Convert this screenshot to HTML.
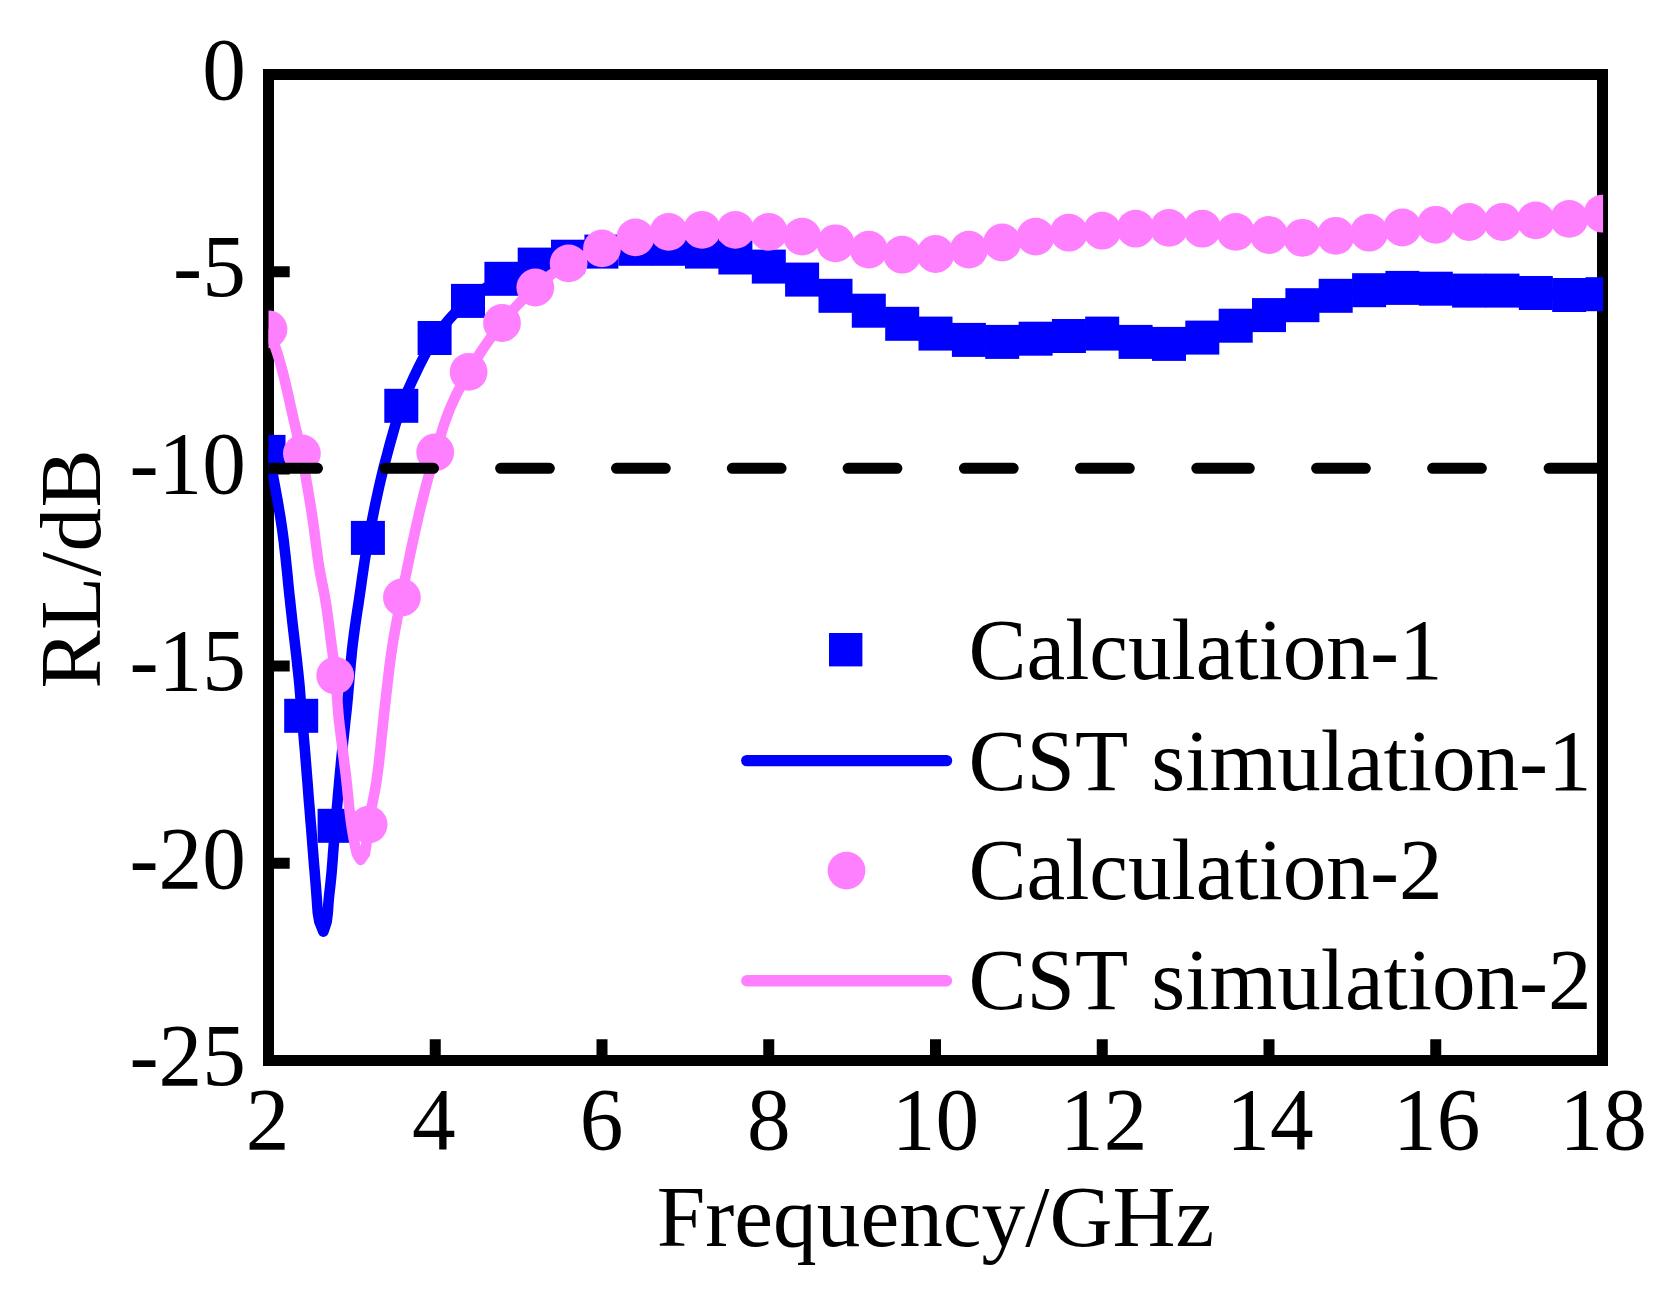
<!DOCTYPE html>
<html lang="en">
<head>
<meta charset="utf-8">
<title>RL/dB vs Frequency/GHz</title>
<style>
html,body{margin:0;padding:0;background:#fff;}
body{width:1676px;height:1301px;overflow:hidden;}
svg{display:block;}
</style>
</head>
<body>
<svg width="1676" height="1301" viewBox="0 0 1676 1301" role="img" aria-label="RL/dB versus Frequency/GHz chart">
<rect width="1676" height="1301" fill="#fff"/>
<defs><clipPath id="pc"><rect x="268.5" y="74.5" width="1334.6" height="986"/></clipPath></defs>
<rect x="268.5" y="74.5" width="1334.0" height="986.0" fill="none" stroke="#000" stroke-width="11"/>
<path d="M435.25,1056 V1039.2 M602.00,1056 V1039.2 M768.75,1056 V1039.2 M935.50,1056 V1039.2 M1102.25,1056 V1039.2 M1269.00,1056 V1039.2 M1435.75,1056 V1039.2 M273,271.70 H289.7 M273,468.90 H289.7 M273,666.10 H289.7 M273,863.30 H289.7" stroke="#000" stroke-width="11" fill="none"/>
<g clip-path="url(#pc)">
<g fill="#0000ff">
<rect x="251.5" y="434.9" width="34" height="34"/>
<rect x="284.2" y="698.8" width="34" height="34"/>
<rect x="317.6" y="808.8" width="34" height="34"/>
<rect x="350.9" y="520.9" width="34" height="34"/>
<rect x="384.3" y="388.8" width="34" height="34"/>
<rect x="417.6" y="321.0" width="34" height="34"/>
<rect x="451.0" y="283.9" width="34" height="34"/>
<rect x="484.4" y="261.8" width="34" height="34"/>
<rect x="517.7" y="247.6" width="34" height="34"/>
<rect x="551.0" y="239.7" width="34" height="34"/>
<rect x="584.4" y="234.6" width="34" height="34"/>
<rect x="618.4" y="231.8" width="34" height="34"/>
<rect x="651.7" y="231.8" width="34" height="34"/>
<rect x="685.0" y="234.6" width="34" height="34"/>
<rect x="718.4" y="240.5" width="34" height="34"/>
<rect x="751.8" y="249.6" width="34" height="34"/>
<rect x="785.1" y="262.6" width="34" height="34"/>
<rect x="818.5" y="278.8" width="34" height="34"/>
<rect x="851.8" y="293.7" width="34" height="34"/>
<rect x="885.2" y="306.8" width="34" height="34"/>
<rect x="918.5" y="316.6" width="34" height="34"/>
<rect x="951.9" y="322.9" width="34" height="34"/>
<rect x="985.2" y="324.9" width="34" height="34"/>
<rect x="1018.6" y="321.7" width="34" height="34"/>
<rect x="1051.9" y="319.0" width="34" height="34"/>
<rect x="1085.2" y="316.6" width="34" height="34"/>
<rect x="1118.6" y="324.9" width="34" height="34"/>
<rect x="1152.0" y="326.9" width="34" height="34"/>
<rect x="1185.3" y="320.6" width="34" height="34"/>
<rect x="1218.7" y="308.7" width="34" height="34"/>
<rect x="1252.0" y="298.1" width="34" height="34"/>
<rect x="1285.4" y="288.2" width="34" height="34"/>
<rect x="1318.7" y="278.8" width="34" height="34"/>
<rect x="1352.1" y="273.2" width="34" height="34"/>
<rect x="1385.4" y="270.9" width="34" height="34"/>
<rect x="1418.8" y="271.7" width="34" height="34"/>
<rect x="1452.1" y="273.6" width="34" height="34"/>
<rect x="1485.5" y="273.6" width="34" height="34"/>
<rect x="1518.8" y="276.0" width="34" height="34"/>
<rect x="1552.2" y="278.0" width="34" height="34"/>
<rect x="1585.5" y="277.2" width="34" height="34"/>
</g>
<path d="M268.5,452.0 L269.6,457.9 L270.7,463.9 L271.9,469.8 L273.0,475.8 L274.1,481.7 L275.2,487.7 L276.3,493.7 L277.4,499.6 L278.4,505.6 L279.4,511.6 L280.4,517.5 L281.3,523.5 L282.2,529.5 L283.0,535.5 L283.9,542.2 L284.6,548.8 L285.4,555.5 L286.1,562.2 L286.8,568.9 L287.5,575.6 L288.1,582.3 L288.8,589.0 L289.4,595.0 L290.1,600.9 L290.7,606.9 L291.4,612.9 L292.0,618.8 L292.7,624.8 L293.4,630.8 L294.1,636.7 L294.8,642.7 L295.5,648.7 L296.2,654.6 L296.9,660.6 L297.5,666.6 L298.2,672.6 L298.8,678.5 L299.4,684.5 L299.9,690.5 L300.4,696.8 L300.9,703.1 L301.4,709.5 L301.9,715.8 L302.4,721.9 L302.9,727.9 L303.5,734.0 L304.0,740.0 L304.6,746.8 L305.2,753.6 L305.7,760.4 L306.3,767.2 L306.8,774.1 L307.4,780.9 L307.9,787.7 L308.4,794.3 L308.9,800.8 L309.5,807.4 L310.0,813.9 L310.5,820.5 L311.1,827.0 L311.6,833.5 L312.1,840.0 L312.6,846.4 L313.1,852.7 L313.6,859.1 L314.1,865.5 L314.7,872.0 L315.2,878.6 L315.8,885.4 L316.3,892.2 L316.8,898.8 L317.2,905.0 L317.8,912.6 L319.3,921.6 L323.4,931.7 L326.7,921.6 L327.8,912.5 L328.3,905.0 L328.8,898.8 L329.5,892.2 L330.3,885.4 L331.0,878.6 L331.6,872.4 L332.1,866.2 L332.6,860.1 L333.0,854.1 L333.5,848.0 L334.1,840.6 L334.7,833.1 L335.4,825.7 L336.0,819.4 L336.5,813.0 L337.0,806.7 L337.6,800.4 L338.1,794.0 L338.7,787.7 L339.3,780.9 L339.9,774.1 L340.6,767.3 L341.2,760.4 L341.9,753.6 L342.6,746.8 L343.3,740.0 L344.0,733.7 L344.7,727.5 L345.3,721.2 L346.0,714.9 L346.7,708.7 L347.3,702.4 L347.9,695.8 L348.5,689.1 L349.1,682.5 L349.6,675.8 L350.2,669.2 L350.8,662.6 L351.5,655.9 L352.1,649.3 L352.9,642.7 L353.7,636.5 L354.5,630.3 L355.4,624.0 L356.3,617.8 L357.2,611.6 L358.2,605.4 L359.1,599.2 L360.0,593.0 L361.0,586.3 L361.9,579.5 L362.9,572.8 L363.9,566.0 L364.9,559.3 L366.1,552.2 L367.3,545.0 L368.6,537.9 L369.9,531.1 L371.2,524.4 L372.6,517.6 L373.8,511.6 L375.0,505.6 L376.3,499.6 L377.6,493.7 L378.9,487.7 L380.4,481.1 L382.0,474.4 L383.6,467.8 L385.3,461.2 L387.1,454.7 L388.8,448.1 L390.6,441.5 L392.3,435.5 L394.0,429.5 L395.7,423.6 L397.6,417.6 L399.5,411.7 L401.6,405.9 L403.8,400.1 L406.2,394.3 L408.6,388.6 L411.2,382.9 L413.8,377.2 L416.5,371.6 L419.3,365.8 L422.2,360.1 L425.2,354.4 L428.4,348.8 L431.6,343.2 L435.1,337.8 L438.6,332.7 L442.3,327.7 L446.2,322.9 L450.2,318.1 L454.4,313.6 L458.8,309.2 L463.3,304.9 L468.0,300.9 L473.2,296.7 L478.6,292.7 L484.1,289.0 L489.7,285.4 L495.5,282.0 L501.4,278.8 L506.7,276.0 L512.2,273.4 L517.7,270.9 L523.3,268.6 L529.0,266.5 L534.7,264.6 L541.3,262.7 L547.9,260.9 L554.6,259.4 L561.3,258.0 L568.0,256.7 L574.7,255.5 L581.4,254.4 L588.0,253.4 L594.7,252.4 L601.4,251.6 L608.2,250.8 L615.0,250.2 L621.7,249.6 L628.5,249.2 L635.4,248.8 L642.0,248.6 L648.7,248.5 L655.4,248.5 L662.0,248.6 L668.7,248.8 L675.4,249.1 L682.1,249.6 L688.7,250.1 L695.4,250.8 L702.0,251.6 L708.8,252.5 L715.5,253.6 L722.1,254.8 L728.8,256.1 L735.4,257.5 L742.1,259.1 L748.8,260.7 L755.5,262.6 L762.2,264.5 L768.8,266.6 L775.5,268.9 L782.3,271.3 L788.9,273.9 L795.5,276.7 L802.1,279.6 L807.7,282.2 L813.3,284.9 L818.8,287.6 L824.4,290.3 L829.9,293.1 L835.5,295.8 L841.0,298.4 L846.5,300.9 L852.0,303.5 L857.6,305.9 L863.2,308.4 L868.8,310.7 L875.4,313.5 L882.0,316.2 L888.7,318.8 L895.4,321.3 L902.2,323.8 L908.7,326.0 L915.4,328.1 L922.0,330.1 L928.8,331.9 L935.5,333.6 L942.1,335.2 L948.8,336.6 L955.4,337.8 L962.1,339.0 L968.9,339.9 L975.5,340.7 L982.2,341.4 L988.8,341.8 L995.5,342.0 L1002.2,341.9 L1008.9,341.5 L1015.6,340.9 L1022.2,340.2 L1028.9,339.4 L1035.6,338.7 L1042.2,338.2 L1048.9,337.7 L1055.5,337.2 L1062.2,336.7 L1068.9,336.0 L1075.6,335.1 L1082.3,334.3 L1089.0,333.6 L1095.7,333.3 L1102.2,333.6 L1109.0,334.7 L1115.6,336.3 L1122.2,338.2 L1128.9,340.2 L1135.6,341.9 L1142.2,343.1 L1148.9,343.9 L1155.5,344.3 L1162.3,344.2 L1169.0,343.9 L1175.7,343.2 L1182.5,342.2 L1189.1,340.9 L1195.8,339.4 L1202.3,337.6 L1209.0,335.4 L1215.7,333.1 L1222.4,330.6 L1229.0,328.2 L1235.7,325.7 L1242.3,323.4 L1248.9,321.2 L1255.6,319.1 L1262.3,317.1 L1269.0,315.1 L1275.7,313.1 L1282.3,311.2 L1289.0,309.2 L1295.7,307.2 L1302.4,305.2 L1309.0,303.2 L1315.6,301.2 L1322.3,299.3 L1329.0,297.4 L1335.7,295.8 L1342.3,294.3 L1348.9,293.1 L1355.6,292.0 L1362.3,291.1 L1369.1,290.2 L1375.7,289.5 L1382.4,288.9 L1389.0,288.4 L1395.7,288.1 L1402.4,287.9 L1409.1,287.8 L1415.7,287.8 L1422.4,288.0 L1429.1,288.3 L1435.8,288.7 L1442.4,289.1 L1449.1,289.6 L1455.8,290.0 L1462.4,290.4 L1469.1,290.6 L1475.8,290.7 L1482.4,290.7 L1489.1,290.6 L1495.8,290.5 L1502.5,290.6 L1509.1,290.9 L1515.8,291.3 L1522.5,291.8 L1529.1,292.4 L1535.8,293.0 L1542.5,293.5 L1549.1,294.0 L1555.8,294.4 L1562.5,294.7 L1569.2,295.0 L1575.8,295.1 L1582.5,295.1 L1589.2,294.9 L1595.8,294.6 L1602.5,294.2" fill="none" stroke="#0000ff" stroke-width="10.6" stroke-linejoin="round" stroke-linecap="butt"/>
<g fill="#ff80ff">
<circle cx="268.5" cy="329.3" r="18.9"/>
<circle cx="301.9" cy="453.5" r="18.9"/>
<circle cx="335.2" cy="675.6" r="18.9"/>
<circle cx="368.6" cy="824.6" r="18.9"/>
<circle cx="401.9" cy="597.5" r="18.9"/>
<circle cx="435.2" cy="452.3" r="18.9"/>
<circle cx="468.6" cy="371.9" r="18.9"/>
<circle cx="502.0" cy="323.0" r="18.9"/>
<circle cx="535.3" cy="287.5" r="18.9"/>
<circle cx="568.6" cy="263.4" r="18.9"/>
<circle cx="602.0" cy="248.4" r="18.9"/>
<circle cx="635.4" cy="237.4" r="18.9"/>
<circle cx="668.7" cy="231.9" r="18.9"/>
<circle cx="702.0" cy="229.9" r="18.9"/>
<circle cx="735.4" cy="229.9" r="18.9"/>
<circle cx="768.8" cy="231.9" r="18.9"/>
<circle cx="802.1" cy="236.6" r="18.9"/>
<circle cx="835.5" cy="243.3" r="18.9"/>
<circle cx="868.8" cy="249.6" r="18.9"/>
<circle cx="902.2" cy="254.7" r="18.9"/>
<circle cx="935.5" cy="254.0" r="18.9"/>
<circle cx="968.9" cy="249.6" r="18.9"/>
<circle cx="1002.2" cy="242.5" r="18.9"/>
<circle cx="1035.6" cy="236.6" r="18.9"/>
<circle cx="1068.9" cy="232.7" r="18.9"/>
<circle cx="1102.2" cy="230.7" r="18.9"/>
<circle cx="1135.6" cy="228.7" r="18.9"/>
<circle cx="1169.0" cy="227.9" r="18.9"/>
<circle cx="1202.3" cy="228.7" r="18.9"/>
<circle cx="1235.7" cy="231.9" r="18.9"/>
<circle cx="1269.0" cy="235.0" r="18.9"/>
<circle cx="1302.4" cy="237.8" r="18.9"/>
<circle cx="1335.7" cy="235.8" r="18.9"/>
<circle cx="1369.1" cy="232.7" r="18.9"/>
<circle cx="1402.4" cy="227.5" r="18.9"/>
<circle cx="1435.8" cy="224.8" r="18.9"/>
<circle cx="1469.1" cy="222.0" r="18.9"/>
<circle cx="1502.5" cy="222.0" r="18.9"/>
<circle cx="1535.8" cy="220.4" r="18.9"/>
<circle cx="1569.2" cy="218.9" r="18.9"/>
<circle cx="1602.5" cy="213.7" r="18.9"/>
</g>
<path d="M268.5,329.3 L271.0,335.3 L273.3,341.3 L275.4,347.4 L277.4,353.5 L279.3,359.7 L281.0,365.6 L282.6,371.6 L284.1,377.5 L285.5,383.5 L286.9,389.5 L288.3,395.5 L289.6,401.5 L290.9,407.4 L292.3,413.4 L293.6,419.4 L295.0,425.3 L296.4,431.3 L298.2,438.7 L300.0,446.1 L301.7,453.5 L303.1,460.9 L304.4,468.3 L305.6,475.8 L306.6,481.8 L307.6,487.7 L308.6,493.7 L309.6,499.6 L310.6,505.6 L311.5,511.6 L312.4,517.5 L313.3,523.5 L314.1,529.5 L314.9,535.5 L315.6,541.5 L316.4,547.4 L317.2,553.4 L318.0,559.4 L318.9,565.4 L319.9,571.3 L321.0,577.2 L322.2,583.2 L323.4,589.1 L324.5,595.0 L325.5,600.9 L326.5,606.9 L327.3,612.8 L328.1,618.8 L328.9,624.8 L329.7,630.7 L330.4,636.7 L331.2,642.7 L332.1,649.3 L333.0,655.8 L333.9,662.4 L334.7,668.9 L335.4,675.5 L336.0,682.0 L336.5,688.4 L336.9,694.9 L337.4,701.4 L337.9,707.8 L338.4,714.3 L339.0,720.7 L339.8,727.2 L340.6,733.6 L341.4,740.0 L342.2,746.0 L342.9,751.9 L343.7,757.9 L344.4,763.9 L345.2,769.8 L345.9,775.8 L346.6,781.8 L347.2,787.7 L347.8,793.6 L348.4,799.6 L349.0,805.5 L349.7,811.5 L350.4,817.5 L351.2,823.4 L352.1,829.5 L353.1,835.5 L355.0,845.5 L356.8,853.6 L360.5,859.9 L364.9,853.6 L366.5,843.0 L366.9,837.0 L367.6,830.7 L368.5,824.3 L369.5,818.1 L370.7,811.9 L371.9,805.8 L373.1,799.8 L374.3,793.8 L375.4,787.7 L376.4,781.8 L377.2,775.9 L378.0,769.9 L378.8,764.0 L379.4,758.0 L380.1,752.0 L380.7,746.0 L381.3,740.0 L381.9,733.8 L382.6,727.6 L383.3,721.4 L383.9,715.2 L384.6,709.0 L385.3,702.9 L386.0,696.7 L386.7,690.5 L387.4,684.5 L388.1,678.5 L388.8,672.5 L389.5,666.6 L390.3,660.6 L391.1,654.6 L392.0,648.7 L392.9,642.7 L394.0,636.2 L395.2,629.7 L396.4,623.2 L397.6,616.7 L398.9,610.3 L400.2,603.8 L401.5,597.3 L402.8,590.8 L404.0,584.3 L405.3,577.8 L406.6,571.3 L407.8,565.3 L409.1,559.4 L410.3,553.4 L411.6,547.4 L412.9,541.5 L414.2,535.5 L415.5,529.5 L416.9,523.5 L418.2,517.5 L419.6,511.5 L421.0,505.6 L422.5,499.6 L424.0,493.6 L425.5,487.7 L427.1,481.8 L428.7,475.9 L430.4,470.1 L432.1,464.2 L433.8,458.4 L435.5,452.5 L437.4,446.0 L439.4,439.5 L441.4,433.0 L443.4,426.5 L445.6,420.1 L448.0,413.7 L450.5,407.4 L453.2,401.3 L456.0,395.2 L459.0,389.3 L462.1,383.4 L465.4,377.5 L468.7,371.7 L472.1,366.1 L475.5,360.5 L479.0,354.9 L482.6,349.4 L486.3,344.0 L490.1,338.7 L493.9,333.4 L497.9,328.1 L502.0,323.0 L505.8,318.2 L509.7,313.6 L513.7,309.0 L517.9,304.5 L522.1,300.1 L526.4,295.8 L530.8,291.6 L535.3,287.5 L540.5,283.0 L545.9,278.7 L551.3,274.5 L557.0,270.6 L562.7,266.9 L568.6,263.4 L574.0,260.6 L579.5,257.9 L585.0,255.4 L590.6,253.0 L596.3,250.7 L602.0,248.4 L608.6,245.9 L615.2,243.5 L621.9,241.3 L628.6,239.2 L635.4,237.4 L641.9,235.9 L648.6,234.6 L655.3,233.5 L662.0,232.6 L668.7,231.9 L675.4,231.3 L682.0,230.8 L688.7,230.4 L695.4,230.1 L702.0,229.9 L708.7,229.8 L715.4,229.7 L722.1,229.7 L728.7,229.8 L735.4,229.9 L742.1,230.1 L748.8,230.4 L755.4,230.8 L762.1,231.3 L768.8,231.9 L775.4,232.6 L782.1,233.4 L788.8,234.4 L795.5,235.4 L802.1,236.6 L808.8,237.9 L815.5,239.2 L822.1,240.6 L828.8,241.9 L835.5,243.3 L842.1,244.6 L848.8,245.9 L855.4,247.1 L862.1,248.4 L868.8,249.6 L875.4,250.9 L882.1,252.1 L888.8,253.2 L895.4,254.1 L902.2,254.7 L908.8,255.1 L915.5,255.1 L922.1,254.9 L928.8,254.5 L935.5,254.0 L942.2,253.3 L948.9,252.6 L955.6,251.7 L962.2,250.7 L968.9,249.6 L975.5,248.3 L982.2,246.9 L988.9,245.4 L995.5,244.0 L1002.2,242.5 L1008.8,241.2 L1015.5,239.9 L1022.2,238.7 L1028.9,237.6 L1035.6,236.6 L1042.2,235.6 L1048.9,234.8 L1055.5,234.0 L1062.2,233.3 L1068.9,232.7 L1075.6,232.2 L1082.2,231.8 L1088.9,231.4 L1095.6,231.0 L1102.2,230.7 L1108.9,230.3 L1115.6,229.9 L1122.3,229.4 L1128.9,229.1 L1135.6,228.7 L1142.3,228.4 L1148.9,228.2 L1155.6,228.1 L1162.3,228.0 L1169.0,227.9 L1175.6,227.9 L1182.3,228.0 L1189.0,228.1 L1195.6,228.3 L1202.3,228.7 L1209.0,229.2 L1215.7,229.8 L1222.3,230.5 L1229.0,231.2 L1235.7,231.9 L1242.3,232.5 L1249.0,233.1 L1255.7,233.7 L1262.3,234.4 L1269.0,235.0 L1275.7,235.7 L1282.3,236.5 L1289.0,237.1 L1295.7,237.6 L1302.4,237.8 L1309.0,237.7 L1315.7,237.4 L1322.4,237.0 L1329.0,236.4 L1335.7,235.8 L1342.4,235.3 L1349.1,234.7 L1355.7,234.1 L1362.4,233.5 L1369.1,232.7 L1375.7,231.7 L1382.4,230.6 L1389.1,229.5 L1395.7,228.4 L1402.4,227.5 L1409.0,226.8 L1415.7,226.2 L1422.4,225.8 L1429.1,225.3 L1435.8,224.8 L1442.4,224.2 L1449.1,223.5 L1455.8,222.9 L1462.4,222.4 L1469.1,222.0 L1475.8,221.9 L1482.4,221.9 L1489.1,222.0 L1495.8,222.0 L1502.5,222.0 L1509.1,221.8 L1515.8,221.5 L1522.5,221.2 L1529.1,220.8 L1535.8,220.4 L1542.5,220.1 L1549.2,219.9 L1555.8,219.6 L1562.5,219.3 L1569.2,218.9 L1575.9,218.3 L1582.6,217.5 L1589.2,216.6 L1595.9,215.3 L1602.5,213.7" fill="none" stroke="#ff80ff" stroke-width="10.6" stroke-linejoin="round" stroke-linecap="butt"/>
<path d="M267.5,468.3 H317.5 M384.7,468.3 H433.5 M500.6,468.3 H549.4 M616.5,468.3 H665.3 M732.3,468.3 H781.1 M848.1,468.3 H896.9 M964.4,468.3 H1013.2 M1080.5,468.3 H1129.3 M1196.8,468.3 H1249.3 M1316.6,468.3 H1365.4 M1432.6,468.3 H1481.4 M1549.1,468.3 H1606.5" stroke="#000" stroke-width="11" stroke-linecap="round" fill="none"/>
</g>
<rect x="829" y="633" width="33.4" height="33.4" fill="#0000ff"/>
<path d="M746.8,760.6 H946.5" stroke="#0000ff" stroke-width="11.4" stroke-linecap="round"/>
<circle cx="846.5" cy="870.6" r="18.9" fill="#ff80ff"/>
<path d="M746.8,980.8 H946.5" stroke="#ff80ff" stroke-width="11.4" stroke-linecap="round"/>
<g font-family="'Liberation Serif', serif" font-size="87.3" fill="#000">
<text x="968.4" y="678.6" font-size="87.1" word-spacing="3">Calculation-1</text>
<text x="968.4" y="789.6" font-size="87.1" word-spacing="3">CST simulation-1</text>
<text x="968.4" y="899.4" font-size="87.1" word-spacing="3">Calculation-2</text>
<text x="968.4" y="1009.2" font-size="87.1" word-spacing="3">CST simulation-2</text>
<text transform="translate(267.50,1149.3) scale(1,1.022)" text-anchor="middle">2</text>
<text transform="translate(433.75,1149.3) scale(1,1.022)" text-anchor="middle">4</text>
<text transform="translate(601.50,1149.3) scale(1,1.022)" text-anchor="middle">6</text>
<text transform="translate(768.75,1149.3) scale(1,1.022)" text-anchor="middle">8</text>
<text transform="translate(935.50,1149.3) scale(1,1.022)" text-anchor="middle">10</text>
<text transform="translate(1103.75,1149.3) scale(1,1.022)" text-anchor="middle">12</text>
<text transform="translate(1270.00,1149.3) scale(1,1.022)" text-anchor="middle">14</text>
<text transform="translate(1436.75,1149.3) scale(1,1.022)" text-anchor="middle">16</text>
<text transform="translate(1603.20,1149.3) scale(1,1.022)" text-anchor="middle">18</text>
<text transform="translate(245.8,98.7) scale(1,1.022)" text-anchor="end">0</text>
<text transform="translate(245.8,295.9) scale(1,1.022)" text-anchor="end">-5</text>
<text transform="translate(245.8,493.1) scale(1,1.022)" text-anchor="end">-10</text>
<text transform="translate(245.8,690.3) scale(1,1.022)" text-anchor="end">-15</text>
<text transform="translate(245.8,887.5) scale(1,1.022)" text-anchor="end">-20</text>
<text transform="translate(245.8,1084.7) scale(1,1.022)" text-anchor="end">-25</text>
<text x="935.5" y="1246" text-anchor="middle">Frequency/GHz</text>
<text transform="translate(100.2,688.6) rotate(-90)" letter-spacing="0.4">RL/dB</text>
</g>
</svg>
</body>
</html>
